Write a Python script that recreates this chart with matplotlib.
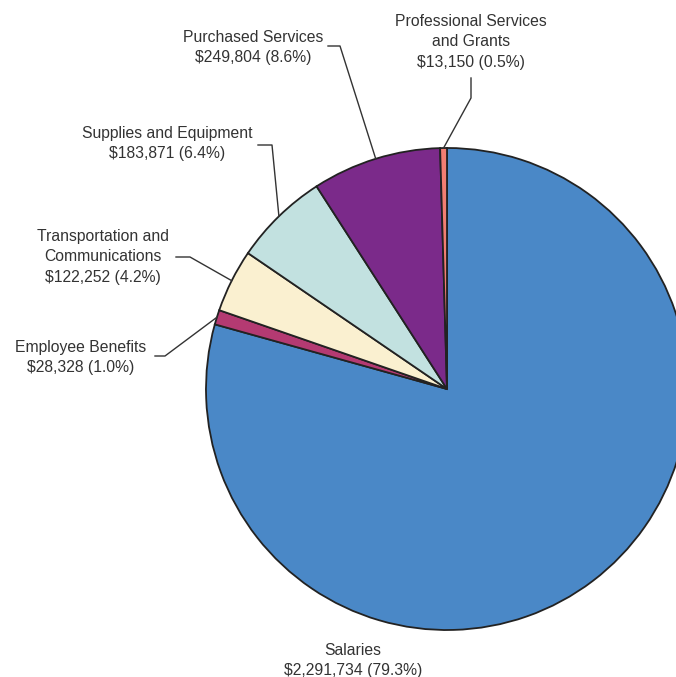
import matplotlib.pyplot as plt
import numpy as np

plt.rcParams['font.family'] = ['Liberation Sans', 'DejaVu Sans']

categories = ["Salaries", "Employee Benefits", "Transportation and\nCommunications",
              "Supplies and Equipment", "Purchased Services",
              "Professional Services\nand Grants"]
amounts = [2291734, 28328, 122252, 183871, 249804, 13150]
percents = ["79.3%", "1.0%", "4.2%", "6.4%", "8.6%", "0.5%"]
colors = ["#4A88C7", "#B43A72", "#FAF0D0", "#C2E1E0", "#7B2A8A", "#F27E72"]

W, H = 676, 677
fig = plt.figure(figsize=(W / 100, H / 100), dpi=100)

# pie centre / radius in pixels (from top-left)
cx, cy, R = 447, 389, 241
ax = fig.add_axes([(cx - R) / W, (H - cy - R) / H, 2 * R / W, 2 * R / H])

wedges, _ = ax.pie(amounts, colors=colors, startangle=90, counterclock=False,
                   radius=1, wedgeprops=dict(edgecolor="#222222", linewidth=1.3))
# pie() sets its own limits, so override afterwards
ax.set_xlim(-1, 1)
ax.set_ylim(-1, 1)
ax.set_aspect("equal")
ax.axis("off")


def px(x, y):
    # pixel -> data coords
    return (x - cx) / R, (cy - y) / R


txt_color = "#333333"
fs = 11.3

# label text position (pixel centre, top line y) and leader line elbow points
layout = {
    0: dict(text=(353, 643), line=None),
    1: dict(text=(81, 340), line=[(165, 356), (155, 356)]),
    2: dict(text=(103, 229), line=[(190, 257), (176, 257)]),
    3: dict(text=(167, 126), line=[(272, 145), (258, 145)]),
    4: dict(text=(253, 30), line=[(340, 46), (328, 46)]),
    5: dict(text=(471, 14), line=[(471, 98), (471, 78)]),
}

for i, w in enumerate(wedges):
    label = f"{categories[i]}\n${amounts[i]:,} ({percents[i]})"
    tx, ty = px(*layout[i]["text"])
    ax.text(tx, ty, label, ha="center", va="top", fontsize=fs, color=txt_color,
            linespacing=1.45, clip_on=False)
    if layout[i]["line"]:
        ang = np.deg2rad((w.theta1 + w.theta2) / 2)
        pts = [(np.cos(ang), np.sin(ang))] + [px(*p) for p in layout[i]["line"]]
        xs, ys = zip(*pts)
        ax.plot(xs, ys, color="#333333", linewidth=1, clip_on=False)

for w in wedges:
    w.set_clip_on(False)

fig.savefig("out.png", dpi=100)
